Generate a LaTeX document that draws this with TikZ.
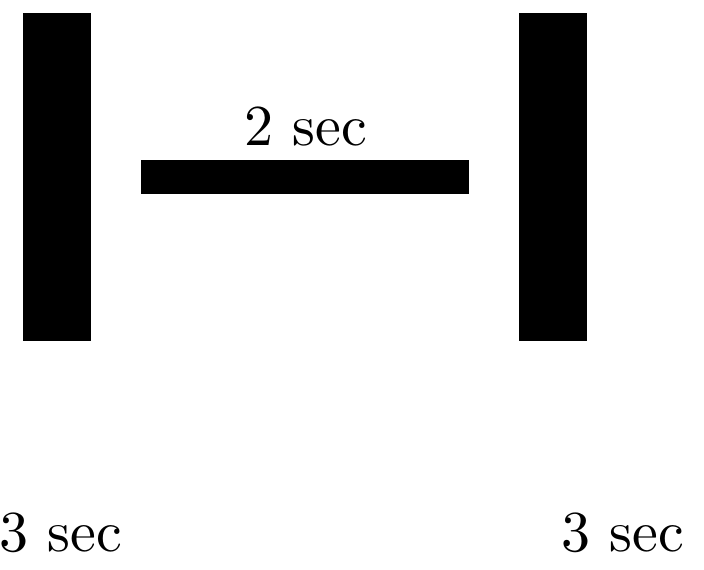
\documentclass[tikz,border=0pt]{standalone}
\usepackage{fontspec}
\newfontfamily\lmten[Extension=.otf]{lmroman10-regular}
\begin{document}
\begin{tikzpicture}[x=1pt,y=-1pt,
  bar/.style={fill=black,draw=none},
  lbl/.style={inner sep=0pt,anchor=base,font=\lmten\fontsize{58}{60}\selectfont}]
\useasboundingbox (0,0) rectangle (704,570);
\fill[bar] (23,13) rectangle (91,341);
\fill[bar] (141,160) rectangle (469,194);
\fill[bar] (519,13) rectangle (587,341);
\node[lbl] (t2) at (306,145) {2 sec};
\node[lbl] (t3a) at (61,551) {3 sec};
\node[lbl] (t3b) at (623,551) {3 sec};
\end{tikzpicture}
\end{document}
